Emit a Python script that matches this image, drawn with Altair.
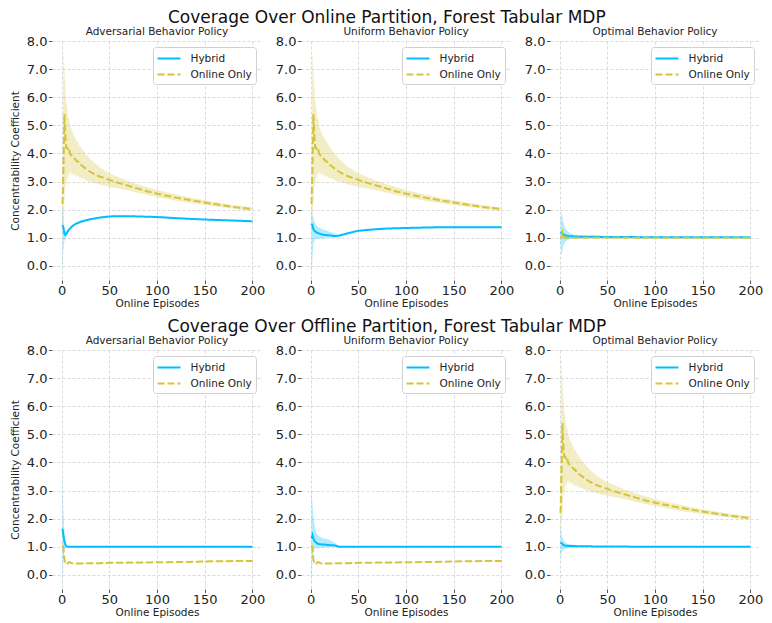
import altair as alt
import pandas as pd

SERIES = ["Hybrid", "Online Only"]
COLORS = ["#00bfff", "#d4c43c"]

ROW_TITLES = [
    "Coverage Over Online Partition, Forest Tabular MDP",
    "Coverage Over Offline Partition, Forest Tabular MDP",
]
PANEL_TITLES = ["Adversarial Behavior Policy", "Uniform Behavior Policy", "Optimal Behavior Policy"]

# x positions (online episodes)
X_LONG = list(range(1, 31)) + [35, 40, 45, 50, 60, 70, 80, 90, 100, 110, 120, 130, 140,
                               150, 160, 170, 180, 190, 200]
X_MID = [1, 2, 3, 4, 5, 6, 7, 8, 10, 12, 15, 20, 25, 30, 40, 50, 60, 70, 80, 100, 125, 150, 175, 200]

# Online-only curve that grows large (used in several panels)
HIGH_MEAN = [2.2, 3.5, 5.4, 4.6, 4.2, 4.2, 4.1, 4.15, 4.0, 3.95, 3.9, 3.85, 3.85, 3.8, 3.75,
             3.75, 3.7, 3.7, 3.65, 3.6, 3.58, 3.55, 3.52, 3.5, 3.47, 3.45, 3.42, 3.4, 3.37, 3.35,
             3.25, 3.18, 3.12, 3.06, 2.95, 2.85, 2.75, 2.65, 2.57, 2.5, 2.43, 2.37, 2.31, 2.26,
             2.2, 2.15, 2.1, 2.06, 2.02]
HIGH_HI = [2.6, 7.7, 7.0, 6.3, 5.8, 5.6, 5.2, 5.3, 4.9, 5.0, 4.7, 4.8, 4.6, 4.6, 4.5,
           4.4, 4.45, 4.3, 4.3, 4.2, 4.22, 4.1, 4.12, 4.05, 4.0, 3.95, 3.95, 3.9, 3.85, 3.8,
           3.65, 3.5, 3.4, 3.3, 3.15, 3.02, 2.9, 2.8, 2.7, 2.62, 2.54, 2.47, 2.4, 2.34,
           2.28, 2.22, 2.17, 2.12, 2.07]
HIGH_LO = [1.5, 1.8, 2.2, 3.0, 2.8, 3.3, 3.0, 3.4, 3.2, 3.4, 3.2, 3.3, 3.2, 3.3, 3.15,
           3.2, 3.15, 3.2, 3.1, 3.15, 3.1, 3.12, 3.08, 3.1, 3.05, 3.05, 3.03, 3.0, 3.0, 3.0,
           2.95, 2.9, 2.85, 2.82, 2.75, 2.68, 2.6, 2.52, 2.45, 2.38, 2.32, 2.26, 2.21, 2.17,
           2.12, 2.08, 2.03, 1.99, 1.96]

# Online-only curve that stays low (offline partition, adversarial / uniform)
LOW_MEAN = [1.05, 0.95, 0.55, 0.42, 0.4, 0.4, 0.45, 0.46, 0.42, 0.41, 0.41, 0.41, 0.41, 0.42,
            0.42, 0.43, 0.43, 0.44, 0.44, 0.45, 0.46, 0.48, 0.49, 0.5]
LOW_HI = [1.15, 1.1, 0.7, 0.48, 0.43, 0.43, 0.47, 0.48, 0.44, 0.43, 0.43, 0.43, 0.43, 0.44,
          0.44, 0.45, 0.45, 0.46, 0.46, 0.47, 0.48, 0.5, 0.51, 0.52]
LOW_LO = [0.9, 0.7, 0.4, 0.38, 0.37, 0.37, 0.43, 0.44, 0.4, 0.39, 0.39, 0.39, 0.39, 0.4,
          0.4, 0.41, 0.41, 0.42, 0.42, 0.43, 0.44, 0.46, 0.47, 0.48]

# Online-only curve under the optimal policy (online partition)
OPT_ONL_MEAN = [1.0, 1.05, 1.2, 1.1, 1.02, 1.0, 1.0, 1.0, 1.0, 1.0, 1.0, 1.0, 1.0, 1.0,
                1.0, 1.0, 1.0, 1.0, 1.0, 1.0, 1.0, 1.0, 1.0, 1.0]
OPT_ONL_HI = [1.05, 1.25, 1.35, 1.2, 1.05, 1.01, 1.01, 1.01, 1.01, 1.01, 1.01, 1.01, 1.01, 1.01,
              1.01, 1.01, 1.01, 1.01, 1.01, 1.01, 1.01, 1.01, 1.01, 1.01]
OPT_ONL_LO = [0.95, 0.9, 0.95, 0.98, 0.99, 0.99, 0.99, 0.99, 0.99, 0.99, 0.99, 0.99, 0.99, 0.99,
              0.99, 0.99, 0.99, 0.99, 0.99, 0.99, 0.99, 0.99, 0.99, 0.99]

# Hybrid curves
HYB_ADV_ON_MEAN = [1.45, 1.35, 1.15, 1.1, 1.15, 1.2, 1.25, 1.3, 1.37, 1.43, 1.5, 1.57, 1.62, 1.66,
                   1.72, 1.76, 1.77, 1.77, 1.76, 1.74, 1.69, 1.65, 1.62, 1.59]
HYB_ADV_ON_HI = [2.1, 1.8, 1.4, 1.25, 1.25, 1.27, 1.31, 1.35, 1.42, 1.47, 1.54, 1.6, 1.65, 1.69,
                 1.74, 1.78, 1.79, 1.79, 1.78, 1.76, 1.71, 1.67, 1.64, 1.61]
HYB_ADV_ON_LO = [-0.1, 0.6, 0.9, 0.95, 1.05, 1.13, 1.19, 1.25, 1.32, 1.39, 1.46, 1.54, 1.59, 1.63,
                 1.7, 1.74, 1.75, 1.75, 1.74, 1.72, 1.67, 1.63, 1.6, 1.57]

HYB_UNI_ON_MEAN = [1.5, 1.45, 1.3, 1.25, 1.22, 1.2, 1.18, 1.16, 1.14, 1.12, 1.1, 1.09, 1.06, 1.08,
                   1.17, 1.25, 1.28, 1.31, 1.33, 1.35, 1.37, 1.38, 1.38, 1.38]
HYB_UNI_ON_HI = [2.1, 1.8, 1.7, 1.6, 1.5, 1.45, 1.4, 1.38, 1.35, 1.3, 1.28, 1.22, 1.15, 1.1,
                 1.19, 1.27, 1.3, 1.33, 1.35, 1.37, 1.39, 1.4, 1.4, 1.4]
HYB_UNI_ON_LO = [-0.4, 0.3, 0.8, 0.9, 0.95, 0.95, 0.96, 0.97, 0.97, 0.98, 0.99, 1.0, 1.02, 1.05,
                 1.15, 1.23, 1.26, 1.29, 1.31, 1.33, 1.35, 1.36, 1.36, 1.36]

HYB_OPT_ON_MEAN = [1.2, 1.18, 1.15, 1.12, 1.1, 1.09, 1.08, 1.07, 1.06, 1.055, 1.05, 1.04, 1.04, 1.04,
                   1.035, 1.03, 1.03, 1.025, 1.025, 1.02, 1.02, 1.02, 1.02, 1.02]
HYB_OPT_ON_HI = [1.6, 1.95, 1.75, 1.55, 1.45, 1.35, 1.3, 1.25, 1.2, 1.15, 1.12, 1.1, 1.09, 1.08,
                 1.075, 1.07, 1.06, 1.05, 1.045, 1.04, 1.035, 1.03, 1.03, 1.03]
HYB_OPT_ON_LO = [0.8, 0.35, 0.55, 0.7, 0.8, 0.85, 0.89, 0.92, 0.95, 0.96, 0.97, 0.98, 0.985, 0.99,
                 0.99, 0.99, 0.995, 1.0, 1.0, 1.0, 1.005, 1.01, 1.01, 1.01]

HYB_ADV_OFF_MEAN = [1.65, 1.4, 1.2, 1.08, 1.02, 1.0, 1.0, 1.0, 1.0, 1.0, 1.0, 1.0, 1.0, 1.0,
                    1.0, 1.0, 1.0, 1.0, 1.0, 1.0, 1.0, 1.0, 1.0, 1.0]
HYB_ADV_OFF_HI = [3.6, 2.2, 1.5, 1.2, 1.05, 1.01, 1.01, 1.01, 1.01, 1.01, 1.01, 1.01, 1.01, 1.01,
                  1.01, 1.01, 1.01, 1.01, 1.01, 1.01, 1.01, 1.01, 1.01, 1.01]
HYB_ADV_OFF_LO = [-0.5, 0.6, 0.9, 0.97, 0.99, 0.99, 0.99, 0.99, 0.99, 0.99, 0.99, 0.99, 0.99, 0.99,
                  0.99, 0.99, 0.99, 0.99, 0.99, 0.99, 0.99, 0.99, 0.99, 0.99]

HYB_UNI_OFF_MEAN = [1.3, 1.42, 1.3, 1.22, 1.18, 1.15, 1.12, 1.1, 1.09, 1.08, 1.08, 1.06, 1.05, 1.0,
                    1.0, 1.0, 1.0, 1.0, 1.0, 1.0, 1.0, 1.0, 1.0, 1.0]
HYB_UNI_OFF_HI = [3.1, 2.5, 2.1, 1.8, 1.6, 1.5, 1.45, 1.4, 1.35, 1.32, 1.3, 1.24, 1.15, 1.01,
                  1.01, 1.01, 1.01, 1.01, 1.01, 1.01, 1.01, 1.01, 1.01, 1.01]
HYB_UNI_OFF_LO = [-0.4, 0.5, 0.85, 0.92, 0.95, 0.96, 0.96, 0.97, 0.98, 0.98, 0.98, 0.99, 1.0, 0.99,
                  0.99, 0.99, 0.99, 0.99, 0.99, 0.99, 0.99, 0.99, 0.99, 0.99]

HYB_OPT_OFF_MEAN = [1.15, 1.13, 1.1, 1.07, 1.05, 1.04, 1.04, 1.04, 1.03, 1.03, 1.03, 1.02, 1.02, 1.02,
                    1.01, 1.01, 1.01, 1.01, 1.0, 1.0, 1.0, 1.0, 1.0, 1.0]
HYB_OPT_OFF_HI = [1.8, 1.5, 1.35, 1.25, 1.2, 1.15, 1.13, 1.12, 1.1, 1.08, 1.07, 1.05, 1.04, 1.03,
                  1.02, 1.02, 1.01, 1.01, 1.01, 1.01, 1.01, 1.01, 1.01, 1.01]
HYB_OPT_OFF_LO = [0.5, 0.75, 0.85, 0.9, 0.92, 0.94, 0.95, 0.96, 0.97, 0.975, 0.98, 0.99, 0.99, 1.0,
                  0.99, 0.99, 0.99, 0.99, 0.99, 0.99, 0.99, 0.99, 0.99, 0.99]

# panel layout: (hybrid x, mean, lo, hi), (online x, mean, lo, hi)
PANELS = [
    [((X_MID, HYB_ADV_ON_MEAN, HYB_ADV_ON_LO, HYB_ADV_ON_HI), (X_LONG, HIGH_MEAN, HIGH_LO, HIGH_HI)),
     ((X_MID, HYB_UNI_ON_MEAN, HYB_UNI_ON_LO, HYB_UNI_ON_HI), (X_LONG, HIGH_MEAN, HIGH_LO, HIGH_HI)),
     ((X_MID, HYB_OPT_ON_MEAN, HYB_OPT_ON_LO, HYB_OPT_ON_HI), (X_MID, OPT_ONL_MEAN, OPT_ONL_LO, OPT_ONL_HI))],
    [((X_MID, HYB_ADV_OFF_MEAN, HYB_ADV_OFF_LO, HYB_ADV_OFF_HI), (X_MID, LOW_MEAN, LOW_LO, LOW_HI)),
     ((X_MID, HYB_UNI_OFF_MEAN, HYB_UNI_OFF_LO, HYB_UNI_OFF_HI), (X_MID, LOW_MEAN, LOW_LO, LOW_HI)),
     ((X_MID, HYB_OPT_OFF_MEAN, HYB_OPT_OFF_LO, HYB_OPT_OFF_HI), (X_LONG, HIGH_MEAN, HIGH_LO, HIGH_HI))],
]

FONT = "DejaVu Sans"
TXT = "#222222"


def make_df(spec):
    rows = []
    for name, (xs, m, lo, hi) in zip(SERIES, spec):
        for a, b, c, d in zip(xs, m, lo, hi):
            rows.append({"series": name, "x": a, "mean": b, "lo": c, "hi": d})
    return pd.DataFrame(rows)


def panel(spec, title, first):
    df = make_df(spec)
    base = alt.Chart(df)
    xs = alt.Scale(domain=[-10, 210], nice=False, zero=False)
    ys = alt.Scale(domain=[-0.5, 8.0], nice=False, zero=False)
    xaxis = alt.Axis(values=[0, 50, 100, 150, 200], title="Online Episodes", labelFlush=False)
    yaxis = alt.Axis(values=[0, 1, 2, 3, 4, 5, 6, 7, 8], format=".1f",
                     title="Concentrability Coefficient" if first else None)
    leg = alt.Legend(title=None, orient="top-right")
    layers = []
    for name, col in zip(SERIES, COLORS):
        layers.append(
            base.transform_filter(alt.datum.series == name)
            .mark_area(clip=True, color=col, opacity=0.3, strokeWidth=0)
            .encode(
                x=alt.X("x:Q", scale=xs, axis=xaxis),
                y=alt.Y("lo:Q", scale=ys, axis=yaxis),
                y2="hi:Q",
            )
        )
    line = base.mark_line(clip=True, strokeWidth=2).encode(
        x=alt.X("x:Q", scale=xs, axis=xaxis),
        y=alt.Y("mean:Q", scale=ys, axis=yaxis),
        color=alt.Color("series:N", scale=alt.Scale(domain=SERIES, range=COLORS), legend=leg),
        strokeDash=alt.StrokeDash("series:N", scale=alt.Scale(domain=SERIES, range=[[1, 0], [7, 3]]),
                                  legend=leg),
    )
    layers.append(line)
    return alt.layer(*layers).properties(
        width=210, height=239,
        title=alt.TitleParams(title, fontSize=10.5, fontWeight="normal", font=FONT, color=TXT,
                              anchor="middle", frame="group", offset=-2.9),
    )


rows = []
for r in range(2):
    panels = [panel(PANELS[r][c], PANEL_TITLES[c], c == 0) for c in range(3)]
    row = alt.hconcat(*panels, spacing=10,
                      title=alt.TitleParams(ROW_TITLES[r], fontSize=17, fontWeight="normal", font=FONT,
                                            color="#111111", anchor="middle", offset=0.8)
                      ).resolve_scale(color="independent", strokeDash="independent")
    rows.append(row)

chart = alt.vconcat(*rows, spacing=8).resolve_scale(
    color="independent", strokeDash="independent"
).properties(
    padding={"left": 2, "top": 0, "right": 0, "bottom": 0}
).configure(font=FONT).configure_view(stroke=None).configure_axis(
    grid=True, gridColor="#d0d0d0", gridDash=[3, 2], gridWidth=0.8,
    domain=False, tickColor="#444444", tickSize=3.5, tickWidth=0.9,
    labelFontSize=13, labelColor=TXT, labelFont=FONT,
    titleFontSize=10.5, titleFontWeight="normal", titleColor=TXT, titleFont=FONT,
).configure_axisX(labelPadding=1, titlePadding=1).configure_axisY(
    labelPadding=1.5, titlePadding=5.5
).configure_legend(
    labelFontSize=10.5, labelColor=TXT, labelFont=FONT, symbolSize=196, symbolStrokeWidth=2,
    symbolType="M-1.64,0H1.64", symbolOffset=4.5, padding=3.5, rowPadding=2, labelOffset=13.5,
    strokeColor="#d0d0d0", fillColor="white", cornerRadius=3, offset=6,
)

chart.save("out.html", embed_options={"renderer": "svg", "actions": False})
